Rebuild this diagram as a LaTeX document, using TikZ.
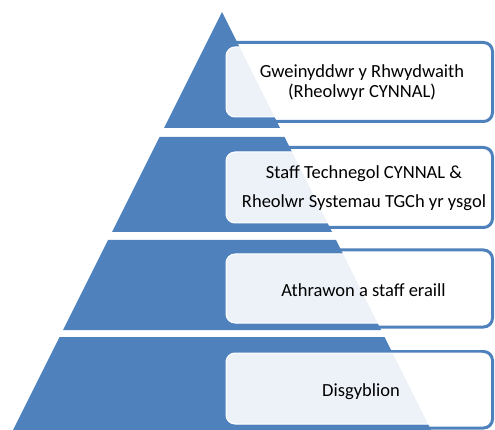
\documentclass[tikz,border=0pt]{standalone}
\usepackage{fontspec}
\setmainfont{Carlito}
\usepackage{xcolor}
\usepackage{tikz}

\definecolor{pyrblue}{RGB}{79,129,189}

\begin{document}
\begin{tikzpicture}[x=1pt, y=-1pt,
	band/.style={fill=pyrblue},
	rim/.style={draw=pyrblue, line width=3pt, rounded corners=9pt},
	txtbox/.style={draw=white, line width=1pt, fill=white, fill opacity=0.9, rounded corners=9pt, minimum width=263pt, inner sep=0pt},
	lbl/.style={text=black, font=\fontsize{18.5}{20}\selectfont, align=center, inner sep=0pt}]
	\useasboundingbox (0,0) rectangle (495,430);

	% pyramid, apex at (222,12), four bands
	\fill[band] (222,12) -- (280,128) -- (164,128) -- cycle;
	\fill[band] (159.5,137) -- (284.5,137) -- (332,232) -- (112,232) -- cycle;
	\fill[band] (108,240) -- (336,240) -- (381,330) -- (63,330) -- cycle;
	\fill[band] (59.5,337) -- (384.5,337) -- (431,430) -- (13,430) -- cycle;

	% blue frames behind the text boxes
	\draw[rim] (218,42.5) rectangle (492.5,121.5);
	\draw[rim] (218,147.5) rectangle (492.5,227.5);
	\draw[rim] (218,250) rectangle (492.5,327);
	\draw[rim] (218,351.5) rectangle (492.5,428);

	\node[txtbox, minimum height=70pt] (box1) at (357.5,82) {};
	\node[txtbox, minimum height=71pt] (box2) at (357.5,187.5) {};
	\node[txtbox, minimum height=69pt] (box3) at (357.5,288.5) {};
	\node[txtbox, minimum height=71pt] (box4) at (357.5,388.5) {};

	\node[lbl] (gweinyddwr) at ([xshift=4.5pt,yshift=-1pt]box1.center) {Gweinyddwr y Rhwydwaith\\(Rheolwyr CYNNAL)};
	\node[lbl] (staff) at ([xshift=6.5pt,yshift=-1pt]box2.center) {Staff Technegol CYNNAL \&\\[9pt]Rheolwr Systemau TGCh yr ysgol};
	\node[lbl] (athrawon) at ([xshift=6pt,yshift=-2pt]box3.center) {Athrawon a staff eraill};
	\node[lbl] (disgyblion) at ([xshift=3.5pt,yshift=-3.5pt]box4.center) {Disgyblion};
\end{tikzpicture}
\end{document}
